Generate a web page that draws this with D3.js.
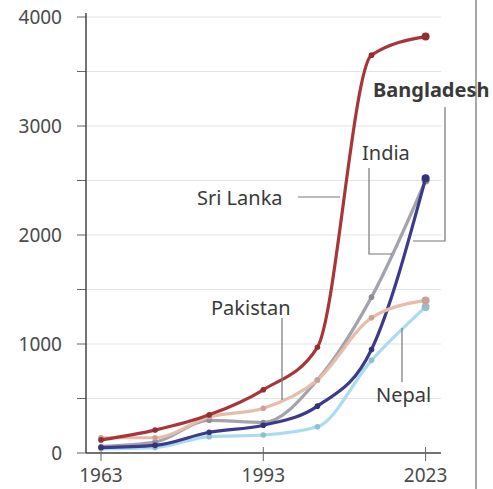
<!DOCTYPE html>
<html>
<head>
<meta charset="utf-8">
<script src="https://cdn.jsdelivr.net/npm/d3@7"></script>
<style>
  body { margin: 0; background: #fff; }
  svg { display: block; font-family: "Noto Sans", "Open Sans", sans-serif; }
</style>
</head>
<body>
<div id="chart"></div>
<script>
var years = [1963, 1973, 1983, 1993, 2003, 2013, 2023];
var sriLanka = [120, 210, 350, 580, 970, 3650, 3820];
var pakistan = [140, 140, 330, 410, 670, 1240, 1400];
var india = [60, 100, 300, 280, 670, 1430, 2500];
var bangladesh = [50, 70, 190, 255, 430, 950, 2520];
var nepal = [40, 50, 150, 165, 240, 850, 1340];
var xTicks = [1963, 1993, 2023];
var yTicks = [0, 1000, 2000, 3000, 4000];
var gridTicks = [0, 500, 1000, 1500, 2000, 2500, 3000, 3500, 4000];

var series = [
  { name: "Nepal", values: nepal, color: "#a9dbf1" },
  { name: "India", values: india, color: "#a3a3ad" },
  { name: "Bangladesh", values: bangladesh, color: "#3c3a8c" },
  { name: "Pakistan", values: pakistan, color: "#e9bba9" },
  { name: "Sri Lanka", values: sriLanka, color: "#a8353a" }
];

var width = 493,
    height = 489;

var svg = d3.select("#chart")
  .append("svg")
  .attr("width", width)
  .attr("height", height);

var x = d3.scaleLinear().domain([1963, 2023]).range([101, 425.6]);
var y = d3.scaleLinear().domain([0, 4000]).range([453, 17]);

// gridlines
svg.append("g")
  .selectAll("line")
  .data(gridTicks.slice(1))
  .enter().append("line")
  .attr("x1", 86)
  .attr("x2", 441)
  .attr("y1", function(d) { return y(d); })
  .attr("y2", function(d) { return y(d); })
  .attr("stroke", "#e3e3e3")
  .attr("stroke-width", 1);

// y axis ticks
svg.append("g")
  .selectAll("line")
  .data(gridTicks)
  .enter().append("line")
  .attr("x1", 77)
  .attr("x2", 86)
  .attr("y1", function(d) { return y(d); })
  .attr("y2", function(d) { return y(d); })
  .attr("stroke", "#666")
  .attr("stroke-width", 1);

svg.append("line")
  .attr("x1", 86).attr("x2", 86)
  .attr("y1", 13).attr("y2", 453)
  .attr("stroke", "#444")
  .attr("stroke-width", 1.5);

svg.append("g")
  .selectAll("text")
  .data(yTicks)
  .enter().append("text")
  .attr("x", 62)
  .attr("y", function(d) { return y(d); })
  .attr("dy", "0.36em")
  .attr("text-anchor", "end")
  .attr("font-size", 19)
  .attr("fill", "#4a4a4a")
  .text(function(d) { return d; });

// x axis
svg.append("line")
  .attr("x1", 86).attr("x2", 441)
  .attr("y1", 453).attr("y2", 453)
  .attr("stroke", "#444")
  .attr("stroke-width", 1.5);

svg.append("g")
  .selectAll("line")
  .data(xTicks)
  .enter().append("line")
  .attr("x1", function(d) { return x(d); })
  .attr("x2", function(d) { return x(d); })
  .attr("y1", 447)
  .attr("y2", 461)
  .attr("stroke", "#666")
  .attr("stroke-width", 1);

svg.append("g")
  .selectAll("text")
  .data(xTicks)
  .enter().append("text")
  .attr("x", function(d) { return x(d); })
  .attr("y", 482)
  .attr("text-anchor", "middle")
  .attr("font-size", 19)
  .attr("fill", "#4a4a4a")
  .text(function(d) { return d; });

// right divider
svg.append("line")
  .attr("x1", 476).attr("x2", 476)
  .attr("y1", 0).attr("y2", height)
  .attr("stroke", "#8a8a8a")
  .attr("stroke-width", 1.5);

// lines
var line = d3.line()
  .x(function(d, i) { return x(years[i]); })
  .y(function(d) { return y(d); })
  .curve(d3.curveMonotoneX);

var groups = svg.append("g")
  .selectAll("g")
  .data(series)
  .enter().append("g");

groups.append("path")
  .attr("d", function(d) { return line(d.values); })
  .attr("fill", "none")
  .attr("stroke", function(d) { return d.color; })
  .attr("stroke-width", 3.2)
  .attr("stroke-linejoin", "round")
  .attr("stroke-linecap", "round");

groups.selectAll("circle")
  .data(function(d) { return d.values.map(function(v, i) { return { v: v, i: i, color: d.color }; }); })
  .enter().append("circle")
  .attr("cx", function(d) { return x(years[d.i]); })
  .attr("cy", function(d) { return y(d.v); })
  .attr("r", function(d) { return d.i === years.length - 1 ? 4 : 2.8; })
  .attr("fill", function(d) { return d3.color(d.color).darker(0.4); });

// labels and leaders
var leaders = [
  [[445, 107], [445, 241], [413, 241]],
  [[369, 168], [369, 254], [392, 254]],
  [[298, 197], [340, 197]],
  [[282, 318], [282, 400]],
  [[402, 328], [402, 382]]
];

svg.append("g")
  .selectAll("path")
  .data(leaders)
  .enter().append("path")
  .attr("d", d3.line())
  .attr("fill", "none")
  .attr("stroke", "#777")
  .attr("stroke-width", 1.2);

var labels = [
  { text: "Bangladesh", x: 373, y: 97, bold: true },
  { text: "India", x: 362, y: 160, bold: false },
  { text: "Sri Lanka", x: 197, y: 205, bold: false },
  { text: "Pakistan", x: 211, y: 315, bold: false },
  { text: "Nepal", x: 376, y: 402, bold: false }
];

svg.append("g")
  .selectAll("text")
  .data(labels)
  .enter().append("text")
  .attr("x", function(d) { return d.x; })
  .attr("y", function(d) { return d.y; })
  .attr("font-size", 20)
  .attr("font-weight", function(d) { return d.bold ? "bold" : "normal"; })
  .attr("fill", "#3a3a3a")
  .text(function(d) { return d.text; });
</script>
</body>
</html>
